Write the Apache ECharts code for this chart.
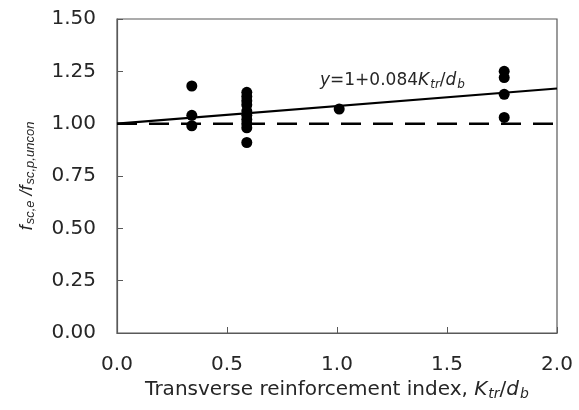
<!DOCTYPE html>
<html>
<head>
<meta charset="utf-8">
<script src="https://cdn.jsdelivr.net/npm/echarts@6/dist/echarts.min.js"></script>
<style>
  html, body { margin: 0; padding: 0; background: #fff; }
  #chart { width: 579px; height: 410px; }
</style>
</head>
<body>
<div id="chart"></div>
<script>
// measured points, Ktr/db vs fsc,e/fsc,p,uncon
const kIndex = [0.34, 0.34, 0.34,
  0.59, 0.59, 0.59, 0.59, 0.59, 0.59, 0.59, 0.59, 0.59, 0.59,
  1.01,
  1.76, 1.76, 1.76, 1.76];
const stressRatio = [1.18, 1.04, 0.99,
  1.15, 1.13, 1.11, 1.09, 1.06, 1.04, 1.02, 1.00, 0.98, 0.91,
  1.07,
  1.25, 1.22, 1.14, 1.03];
// fit y = 1 + 0.084 Ktr/db, end points
const fitX = [0, 2.0];
const fitY = [1.0, 1.168];
const refX = [0, 2.0];
const refY = [1.0, 1.0];
const xTicks = [0, 0.5, 1.0, 1.5, 2.0];
const yTicks = [0, 0.25, 0.5, 0.75, 1.0, 1.25, 1.5];

const axisColor = '#595959';
const textColor = '#262626';
const font = 'DejaVu Sans, sans-serif';
const nameFont = 'Liberation Sans, Arial, sans-serif';

const chart = echarts.init(document.getElementById('chart'));
chart.setOption({
  animation: false,
  grid: {
    left: 117, right: 22, top: 19, bottom: 77,
    show: true, borderColor: axisColor, borderWidth: 1.2
  },
  xAxis: {
    type: 'value',
    min: xTicks[0], max: xTicks[xTicks.length - 1], interval: 0.5,
    axisLine: { show: true, lineStyle: { color: axisColor, width: 1.2 } },
    axisTick: { show: true, inside: true, length: 6, lineStyle: { color: axisColor } },
    splitLine: { show: false },
    axisLabel: {
      margin: 22, fontSize: 20, color: textColor, fontFamily: font,
      formatter: v => v.toFixed(1)
    },
    name: '{n|Transverse reinforcement index, }{i|K}{s|tr}{n|/}{i|d}{s|b}',
    nameLocation: 'middle',
    nameGap: 45,
    nameTextStyle: {
      rich: {
        n: { fontSize: 20, color: textColor, fontFamily: font },
        i: { fontSize: 20, color: textColor, fontFamily: font, fontStyle: 'italic' },
        s: { fontSize: 14, color: textColor, fontFamily: font, fontStyle: 'italic', padding: [9, 0, 0, 1] }
      }
    }
  },
  yAxis: {
    type: 'value',
    min: yTicks[0], max: yTicks[yTicks.length - 1], interval: 0.25,
    axisLine: { show: true, lineStyle: { color: axisColor, width: 1.2 } },
    axisTick: { show: true, inside: true, length: 6, lineStyle: { color: axisColor } },
    splitLine: { show: false },
    axisLabel: {
      margin: 21, fontSize: 20, color: textColor, fontFamily: font,
      formatter: v => v.toFixed(2)
    },
    name: '{i|f}{s|sc,e}{n| /}{i|f}{s|sc,p,uncon}',
    nameLocation: 'middle',
    nameRotate: 90,
    nameGap: 80,
    nameTextStyle: {
      rich: {
        n: { fontSize: 18, color: textColor, fontFamily: nameFont, fontStyle: 'italic' },
        i: { fontSize: 18, color: textColor, fontFamily: nameFont, fontStyle: 'italic' },
        s: { fontSize: 13, color: textColor, fontFamily: nameFont, fontStyle: 'italic', padding: [8, 0, 0, 1] }
      }
    }
  },
  graphic: [{
    type: 'text',
    x: 320, y: 71,
    style: {
      text: '{i|y}{n|=1+0.084}{i|K}{s|tr}{n|/}{i|d}{s|b}',
      rich: {
        n: { fontSize: 17, fill: textColor, fontFamily: font },
        i: { fontSize: 17, fill: textColor, fontFamily: font, fontStyle: 'italic' },
        s: { fontSize: 12, fill: textColor, fontFamily: font, fontStyle: 'italic', padding: [8, 0, 0, 1] }
      }
    },
    z: 10
  }],
  series: [
    {
      type: 'line',
      data: refX.map((x, i) => [x, refY[i]]),
      symbol: 'none',
      lineStyle: { color: '#000', width: 2.5, type: [20, 12] },
      z: 2
    },
    {
      type: 'line',
      data: fitX.map((x, i) => [x, fitY[i]]),
      symbol: 'none',
      lineStyle: { color: '#000', width: 2.2 },
      z: 3
    },
    {
      type: 'scatter',
      data: kIndex.map((x, i) => [x, stressRatio[i]]),
      symbol: 'circle',
      symbolSize: 11,
      itemStyle: { color: '#000', opacity: 1 },
      z: 4
    }
  ]
});
</script>
</body>
</html>
